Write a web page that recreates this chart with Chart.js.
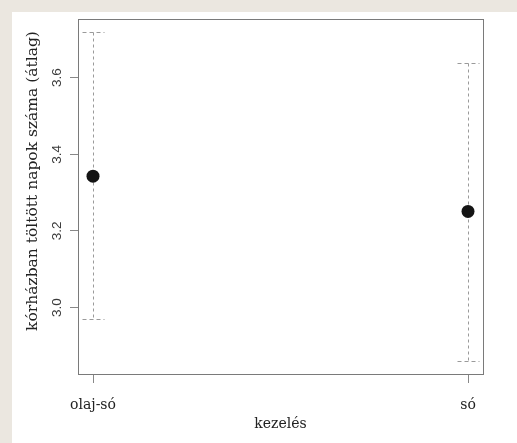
<!DOCTYPE html>
<html><head><meta charset="utf-8">
<script src="https://cdn.jsdelivr.net/npm/chart.js@4"></script>
<style>
html,body{margin:0;padding:0;background:#ebe7e0;width:517px;height:443px;overflow:hidden;}
#wrap{position:absolute;left:12px;top:12px;width:505px;height:431px;background:#fff;}
canvas{display:block;}
</style></head>
<body><div id="wrap"><canvas id="c" width="505" height="431"></canvas></div>
<script>
const categories = ["olaj-só", "só"];
const means = [3.343, 3.251];
const lowerCI = [2.970, 2.861];
const upperCI = [3.719, 3.638];
const yTicks = [3.0, 3.2, 3.4, 3.6];
const yTickLabels = ["3.0", "3.2", "3.4", "3.6"];
const xTitle = "kezelés";
const yTitle = "kórházban töltött napok száma (átlag)";

const serif = "'DejaVu Serif', serif";
const sans = "'Liberation Sans', Arial, sans-serif";

const decor = {
  id: 'decor',
  beforeDatasetsDraw(chart) {
    const ctx = chart.ctx, xs = chart.scales.x, ys = chart.scales.y;
    ctx.save();
    ctx.strokeStyle = '#9a9a9a';
    ctx.lineWidth = 1;
    categories.forEach((c, i) => {
      const px = Math.round(xs.getPixelForValue(i + 1)) + 0.5;
      const yt = Math.round(ys.getPixelForValue(upperCI[i])) + 0.5;
      const yb = Math.round(ys.getPixelForValue(lowerCI[i])) + 0.5;
      ctx.setLineDash([3, 3]);
      ctx.beginPath(); ctx.moveTo(px, yt); ctx.lineTo(px, yb); ctx.stroke();
      ctx.setLineDash([4, 3]);
      ctx.beginPath(); ctx.moveTo(px - 11, yt); ctx.lineTo(px + 11, yt); ctx.stroke();
      ctx.beginPath(); ctx.moveTo(px - 11, yb); ctx.lineTo(px + 11, yb); ctx.stroke();
    });
    ctx.restore();
  },
  afterDraw(chart) {
    const ctx = chart.ctx, a = chart.chartArea, ys = chart.scales.y;
    ctx.save();
    ctx.strokeStyle = '#7a7a7a';
    ctx.lineWidth = 1;
    ctx.strokeRect(Math.round(a.left) + 0.5, Math.round(a.top) + 0.5, Math.round(a.right - a.left), Math.round(a.bottom - a.top));
    ctx.fillStyle = '#3a3a3a';
    ctx.font = "13.5px " + sans;
    ctx.textAlign = 'center';
    ctx.textBaseline = 'middle';
    yTicks.forEach((v, i) => {
      const py = ys.getPixelForValue(v);
      ctx.save();
      ctx.translate(45, py);
      ctx.rotate(-Math.PI / 2);
      ctx.fillText(yTickLabels[i], 0, 0);
      ctx.restore();
    });
    ctx.fillStyle = '#222';
    ctx.font = "15.5px " + serif;
    ctx.save();
    ctx.translate(21, 169);
    ctx.rotate(-Math.PI / 2);
    ctx.fillText(yTitle, 0, 0);
    ctx.restore();
    ctx.restore();
  }
};

new Chart(document.getElementById('c'), {
  type: 'scatter',
  data: {
    datasets: [{
      data: means.map((m, i) => ({ x: i + 1, y: m })),
      pointRadius: 6.5,
      pointHoverRadius: 6.5,
      backgroundColor: '#141414',
      borderWidth: 0
    }]
  },
  options: {
    responsive: false,
    devicePixelRatio: 1,
    animation: false,
    events: [],
    layout: { padding: { left: 0, right: 34, top: 7, bottom: 0 } },
    plugins: { legend: { display: false }, tooltip: { enabled: false } },
    scales: {
      x: {
        type: 'linear', min: 0.96, max: 2.04,
        afterBuildTicks: s => { s.ticks = categories.map((c, i) => ({ value: i + 1 })); },
        afterFit: s => { s.height = 69; },
        ticks: {
          callback: v => categories[v - 1],
          font: { family: serif, size: 14 },
          color: '#222',
          padding: 14,
          maxRotation: 0, autoSkip: false
        },
        grid: { drawOnChartArea: false, drawTicks: true, tickLength: 9, color: '#888', lineWidth: 1 },
        border: { display: false },
        title: { display: true, text: xTitle, font: { family: serif, size: 14 }, color: '#222', padding: { top: 0, bottom: 10 } }
      },
      y: {
        type: 'linear', min: 2.8267, max: 3.7533,
        afterBuildTicks: s => { s.ticks = yTicks.map(v => ({ value: v })); },
        afterFit: s => { s.width = 66; },
        ticks: { display: false },
        grid: { drawOnChartArea: false, drawTicks: true, tickLength: 8, color: '#888', lineWidth: 1 },
        border: { display: false }
      }
    }
  },
  plugins: [decor]
});
</script>
</body></html>
